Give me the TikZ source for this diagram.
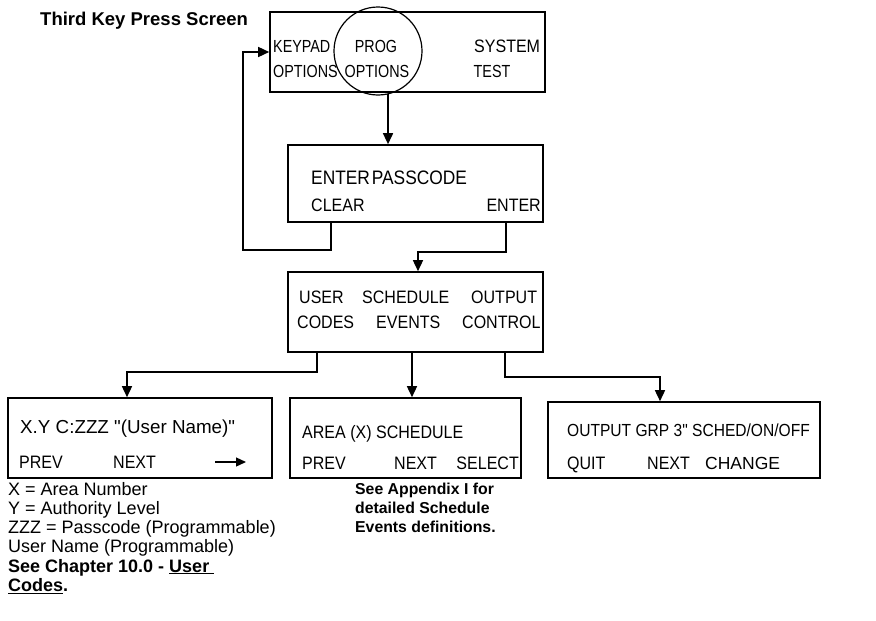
\documentclass[tikz,border=0pt]{standalone}
\usepackage{fontspec}
\setmainfont{Liberation Sans}
\newfontfamily\plainfont{Liberation Sans}
\newfontfamily\boxfont[FakeStretch=0.89]{Liberation Sans}
\newfontfamily\tightfont[FakeStretch=0.82]{Liberation Sans}
\usetikzlibrary{arrows.meta,calc}
\begin{document}
\begin{tikzpicture}[x=1pt,y=-1pt,
  box/.style={draw,line width=1.6pt,inner sep=0pt},
  conn/.style={line width=1.5pt},
  arr/.style={conn,-{Triangle[width=10pt,length=11pt]}},
  bt/.style={font=\boxfont\fontsize{18}{20}\selectfont,inner sep=0pt,anchor=west,text height=12.8pt,text depth=0pt},
  btc/.style={bt,anchor=center},
  bte/.style={bt,anchor=east},
  tt/.style={bt,font=\tightfont\fontsize{17.5}{20}\selectfont},
  ttc/.style={tt,anchor=center},
  note/.style={font=\fontsize{18}{20}\selectfont,inner sep=0pt,anchor=west,text height=13pt,text depth=0pt},
  bnote/.style={note,font=\bfseries\fontsize{15.8}{20}\selectfont,text height=11.4pt},
]
\useasboundingbox (0,0) rectangle (876,621);

% title
\node[note,font=\bfseries\fontsize{18.5}{20}\selectfont] (title) at (40,19) {Third Key Press Screen};

% top screen
\node[box,minimum width=275pt,minimum height=80pt] (top) at (407.5,52) {};
\node[draw,circle,line width=1.2pt,minimum size=88pt,inner sep=0pt] (prog) at (378,51) {};
\node[tt] (kp1) at (273,46) {KEYPAD};
\node[tt] (kp2) at (273,71) {OPTIONS};
\node[ttc] (pg1) at (376,46) {PROG};
\node[ttc] (pg2) at (377,71) {OPTIONS};
\node[bt] (st1) at (474,46) {SYSTEM};
\node[ttc] (st2) at (492,71) {TEST};

% passcode screen
\node[box,minimum width=255pt,minimum height=77pt] (enter) at (415.5,183.5) {};
\node[bt,font=\boxfont\fontsize{19.5}{20}\selectfont] (ep) at (311,178) {ENTER\hspace{-3pt} PASSCODE};
\node[bt] (clr) at (311,205) {CLEAR};
\node[bte] (ent) at (541,205) {ENTER};

% menu screen
\node[box,minimum width=255pt,minimum height=80pt] (menu) at (415.5,312) {};
\node[bt] (m1) at (299,297) {USER};
\node[bt] (m2) at (362,297) {SCHEDULE};
\node[bt] (m3) at (471,297) {OUTPUT};
\node[bt] (m4) at (297,322) {CODES};
\node[bt] (m5) at (376,322) {EVENTS};
\node[bt] (m6) at (462,322) {CONTROL};

% bottom screens
\node[box,minimum width=264pt,minimum height=80pt] (user) at (140,438) {};
\node[bt,font=\plainfont\fontsize{18.8}{20}\selectfont] (u1) at (20,427) {X.Y C:ZZZ "(User Name)"};
\node[bt] (u2) at (19,462) {PREV};
\node[bt] (u3) at (113,462) {NEXT};
\coordinate (ua) at (215,462);
\coordinate (ub) at (246,462);
\draw[line width=1.3pt,-{Triangle[width=9pt,length=10pt]}] (ua) -- (ub);

\node[box,minimum width=231pt,minimum height=80pt] (area) at (405.5,438) {};
\node[bt] (a1) at (302,432) {AREA (X) SCHEDULE};
\node[bt] (a2) at (302,463) {PREV};
\node[bt] (a3) at (394,463) {NEXT};
\node[bte] (a4) at (519,463) {SELECT};

\node[box,minimum width=272pt,minimum height=76pt] (out) at (684,440) {};
\node[bt,font=\boxfont\fontsize{17.5}{20}\selectfont] (o1) at (567,430) {OUTPUT GRP 3" SCHED/ON/OFF};
\node[bt] (o2) at (567,463) {QUIT};
\node[bt] (o3) at (647,463) {NEXT};
\node[bt,font=\plainfont\fontsize{17.5}{20}\selectfont] (o4) at (705,463) {CHANGE};

% notes
\node[note] (n1) at (8,489) {X = Area Number};
\node[note] (n2) at (8,508) {Y = Authority Level};
\node[note] (n3) at (8,527) {ZZZ = Passcode (Programmable)};
\node[note] (n4) at (8,546) {User Name (Programmable)};
\node[note,font=\bfseries\fontsize{18}{20}\selectfont] (n5) at (8,565.5) {See Chapter 10.0 - \underline{User\ }};
\node[note,font=\bfseries\fontsize{18}{20}\selectfont] (n6) at (8,585) {\underline{Codes}.};
\node[bnote] (s1) at (355,489) {See Appendix I for};
\node[bnote] (s2) at (355,508) {detailed Schedule};
\node[bnote] (s3) at (355,527) {Events definitions.};

% connectors
\draw[arr] (prog.-77) -- (prog.-77 |- enter.north);
\coordinate (fb) at (243,250);
\draw[arr] ($(enter.south west)+(44,0)$) |- (fb) |- (top.west);
\coordinate (e2) at (418,252);
\draw[arr] ($(enter.south west)+(219,0)$) |- (e2) -- (e2 |- menu.north);
\coordinate (l1) at (127,372);
\draw[arr] ($(menu.south west)+(30,0)$) |- (l1) -- (l1 |- user.north);
\coordinate (mid) at (412,352);
\draw[arr] (mid) -- (mid |- area.north);
\coordinate (r1) at (660,377);
\draw[arr] ($(menu.south west)+(218,0)$) |- (r1) -- (r1 |- out.north);
\end{tikzpicture}
\end{document}
